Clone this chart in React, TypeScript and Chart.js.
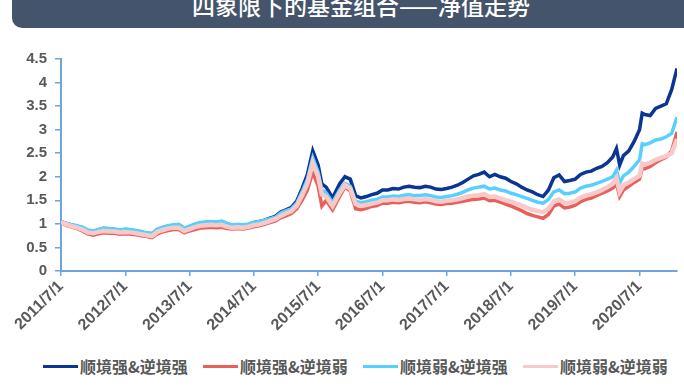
import React, { useEffect, useRef } from "react";
import { Chart, registerables } from "chart.js";

Chart.register(...registerables);

// months since 2011/7/1
const months = [
  0, 1, 2, 3, 4, 5, 6, 7, 8, 9, 10, 11, 12, 13, 14, 15, 16, 17, 18, 19, 20, 21, 22, 23, 24,
  25, 26, 27, 28, 29, 30, 31, 32, 33, 34, 35, 36, 37, 38, 39, 40, 41, 42, 43, 44, 45, 46, 47, 48,
  48.7, 49.5, 50.7,
  52, 53, 54, 55, 56, 57, 58, 59, 60, 61, 62, 63, 64, 65, 66, 67, 68, 69, 70, 71, 72, 73, 74, 75,
  76, 77, 78, 79, 80, 81, 82, 83, 84, 85, 86, 87, 88, 89, 90, 91, 92, 93, 94, 95, 96, 97, 98, 99,
  100, 101, 102, 103,
  103.7, 104.3,
  105, 106, 107, 108,
  108.5,
  109, 110, 111, 112, 113, 114, 115,
];

const tickMonths = [0, 12, 24, 36, 48, 60, 72, 84, 96, 108];
const tickLabels = [
  "2011/7/1", "2012/7/1", "2013/7/1", "2014/7/1", "2015/7/1",
  "2016/7/1", "2017/7/1", "2018/7/1", "2019/7/1", "2020/7/1",
];
const yTickLabels = ["0", "0.5", "1", "1.5", "2", "2.5", "3", "3.5", "4", "4.5"];

const seriesNames = ["顺境强&逆境强", "顺境强&逆境弱", "顺境弱&逆境强", "顺境弱&逆境弱"];
const seriesColors = ["#0A3592", "#E8605A", "#58D0FF", "#F8C9C9"];
const seriesWidths = [3.5, 3.5, 3.5, 4.5];
const drawOrder = [3, 2, 1, 0];

const strongStrong = [
  1.05, 1.01, 0.98, 0.95, 0.92, 0.86, 0.84, 0.87, 0.90, 0.89, 0.88, 0.86, 0.88, 0.87, 0.85, 0.83,
  0.80, 0.79, 0.88, 0.92, 0.95, 0.97, 0.98, 0.90, 0.94, 0.99, 1.02, 1.03, 1.04, 1.03, 1.05, 1.00,
  0.97, 0.98, 0.97, 0.99, 1.03, 1.05, 1.08, 1.12, 1.16, 1.25, 1.30, 1.35, 1.48, 1.75, 2.05, 2.55, 2.25,
  1.85, 1.78, 1.55,
  1.85, 2.0, 1.95, 1.6, 1.55, 1.58, 1.62, 1.65, 1.72, 1.72, 1.75, 1.74, 1.78, 1.80, 1.78, 1.77,
  1.80, 1.78, 1.74, 1.73, 1.75, 1.78, 1.82, 1.88, 1.95, 2.02, 2.05, 2.1, 2.0, 2.05, 2.0, 1.97,
  1.9, 1.85, 1.78, 1.72, 1.68, 1.62, 1.58, 1.72, 1.98, 2.04, 1.9, 1.92, 1.95, 2.05, 2.1, 2.12,
  2.18, 2.22, 2.3, 2.42,
  2.6, 2.25,
  2.45, 2.55, 2.75, 3.0,
  3.35,
  3.32, 3.3, 3.45, 3.5, 3.55, 3.85, 4.3,
];

const strongWeak = [
  1.03, 0.97, 0.93, 0.90, 0.85, 0.79, 0.76, 0.79, 0.81, 0.80, 0.80, 0.78, 0.79, 0.78, 0.77, 0.75,
  0.73, 0.71, 0.79, 0.83, 0.86, 0.88, 0.88, 0.81, 0.85, 0.88, 0.91, 0.92, 0.93, 0.92, 0.93, 0.90,
  0.89, 0.90, 0.89, 0.91, 0.94, 0.96, 0.99, 1.03, 1.06, 1.13, 1.17, 1.22, 1.32, 1.50, 1.72, 2.10, 1.80,
  1.38, 1.50, 1.30,
  1.58, 1.78, 1.70, 1.32, 1.30, 1.33, 1.37, 1.39, 1.44, 1.44, 1.46, 1.45, 1.47, 1.48, 1.46, 1.45,
  1.47, 1.45, 1.42, 1.41, 1.43, 1.44, 1.46, 1.48, 1.50, 1.52, 1.53, 1.55, 1.49, 1.50, 1.46, 1.42,
  1.38, 1.33, 1.28, 1.22, 1.18, 1.15, 1.12, 1.20, 1.38, 1.42, 1.34, 1.36, 1.40, 1.47, 1.52, 1.55,
  1.60, 1.65, 1.70, 1.76,
  1.85, 1.58,
  1.72, 1.80, 1.88, 1.95,
  2.18,
  2.17, 2.22, 2.30, 2.36, 2.42, 2.55, 2.95,
];

const weakStrong = [
  1.05, 1.01, 0.98, 0.96, 0.93, 0.87, 0.85, 0.88, 0.91, 0.90, 0.89, 0.87, 0.89, 0.88, 0.86, 0.84,
  0.81, 0.80, 0.89, 0.93, 0.96, 0.98, 0.99, 0.91, 0.95, 1.00, 1.03, 1.04, 1.05, 1.04, 1.06, 1.01,
  0.98, 0.99, 0.98, 1.00, 1.03, 1.05, 1.08, 1.11, 1.14, 1.23, 1.28, 1.32, 1.44, 1.68, 1.95, 2.40, 2.10,
  1.72, 1.66, 1.45,
  1.72, 1.86, 1.80, 1.48, 1.45, 1.47, 1.50, 1.52, 1.57, 1.57, 1.59, 1.58, 1.61, 1.62, 1.60, 1.60,
  1.62, 1.60, 1.57, 1.56, 1.58, 1.60, 1.63, 1.67, 1.72, 1.76, 1.78, 1.80, 1.74, 1.76, 1.72, 1.70,
  1.65, 1.62, 1.58, 1.54, 1.50, 1.46, 1.44, 1.52, 1.68, 1.72, 1.64, 1.65, 1.68, 1.76, 1.80, 1.82,
  1.86, 1.90, 1.95, 2.00,
  2.14, 1.87,
  2.02, 2.10, 2.22, 2.36,
  2.70,
  2.68, 2.72, 2.78, 2.80, 2.85, 2.92, 3.27,
];

const weakWeak = [
  1.04, 0.99, 0.95, 0.92, 0.88, 0.82, 0.80, 0.83, 0.85, 0.84, 0.84, 0.82, 0.83, 0.82, 0.80, 0.78,
  0.76, 0.74, 0.83, 0.87, 0.90, 0.92, 0.92, 0.85, 0.89, 0.93, 0.96, 0.97, 0.98, 0.97, 0.98, 0.94,
  0.92, 0.93, 0.92, 0.94, 0.97, 0.99, 1.02, 1.06, 1.10, 1.17, 1.22, 1.27, 1.38, 1.60, 1.85, 2.30, 2.00,
  1.62, 1.58, 1.38,
  1.65, 1.82, 1.75, 1.42, 1.38, 1.40, 1.43, 1.45, 1.50, 1.50, 1.52, 1.51, 1.53, 1.54, 1.52, 1.51,
  1.53, 1.51, 1.48, 1.47, 1.49, 1.50, 1.52, 1.55, 1.58, 1.60, 1.61, 1.63, 1.57, 1.58, 1.54, 1.50,
  1.47, 1.43, 1.39, 1.34, 1.30, 1.27, 1.25, 1.32, 1.48, 1.52, 1.44, 1.45, 1.48, 1.56, 1.60, 1.63,
  1.67, 1.72, 1.78, 1.85,
  1.97, 1.68,
  1.82, 1.88, 1.95, 2.02,
  2.28,
  2.26, 2.30, 2.36, 2.40, 2.44, 2.50, 2.80,
];

const AXIS_COLOR = "#6FA3DB";
const LABEL_COLOR = "#595959";
const LATIN_FONT = "'Liberation Sans', Arial, sans-serif";
const CJK_FONT = "'Noto Sans CJK SC', 'Liberation Sans', sans-serif";

export default function App() {
  const canvasRef = useRef<HTMLCanvasElement>(null);

  useEffect(() => {
    const seriesValues = [strongStrong, strongWeak, weakStrong, weakWeak];
    const chart = new Chart(canvasRef.current as HTMLCanvasElement, {
      type: "line",
      data: {
        datasets: seriesNames.map((name, i) => ({
          label: name,
          data: months.map((m, j) => ({ x: m, y: seriesValues[i][j] })),
          borderColor: seriesColors[i],
          backgroundColor: seriesColors[i],
          borderWidth: seriesWidths[i],
          pointRadius: 0,
          tension: 0,
          order: drawOrder[i],
        })),
      },
      options: {
        animation: false,
        responsive: false,
        layout: { padding: { top: 59, right: 7, left: 0, bottom: 0 } },
        plugins: { legend: { display: false }, tooltip: { enabled: false } },
        scales: {
          x: {
            type: "linear",
            min: 0,
            max: 115,
            afterBuildTicks: (s: any) => {
              s.ticks = tickMonths.map((v) => ({ value: v }));
            },
            afterFit: (s: any) => {
              s.height = 74;
            },
            ticks: {
              autoSkip: false,
              maxRotation: 45,
              minRotation: 45,
              padding: 1,
              color: LABEL_COLOR,
              font: { family: LATIN_FONT, size: 16, weight: "bold" },
              callback: (v: any) => {
                const k = tickMonths.indexOf(Number(v));
                return k >= 0 ? tickLabels[k] : "";
              },
            },
            grid: { drawOnChartArea: false, color: AXIS_COLOR, tickLength: 5, lineWidth: 1.5 },
            border: { color: AXIS_COLOR, width: 2 },
          },
          y: {
            min: 0,
            max: 4.5,
            afterFit: (s: any) => {
              s.width = 61;
            },
            ticks: {
              stepSize: 0.5,
              padding: 8,
              color: LABEL_COLOR,
              font: { family: LATIN_FONT, size: 15, weight: "bold" },
              callback: (v: any) => {
                const k = Math.round(Number(v) * 2);
                return yTickLabels[k] ?? "";
              },
            },
            grid: { drawOnChartArea: false, color: AXIS_COLOR, tickLength: 6, lineWidth: 1.5 },
            border: { color: AXIS_COLOR, width: 2 },
          },
        },
      },
    });
    return () => chart.destroy();
  }, []);

  const legendLefts = [43, 203, 363, 523];

  return (
    <div
      style={{
        position: "absolute",
        left: 0,
        top: 0,
        width: 684,
        height: 387,
        overflow: "hidden",
        background: "#ffffff",
      }}
    >
      <div
        style={{
          position: "absolute",
          left: 12,
          top: -20,
          width: 700,
          height: 48,
          borderRadius: 10,
          background: "#44546A",
        }}
      />
      <div
        style={{
          position: "absolute",
          left: 0,
          top: -9,
          width: 722,
          height: 28,
          lineHeight: "28px",
          textAlign: "center",
          color: "#ffffff",
          fontFamily: CJK_FONT,
          fontSize: 23,
          fontWeight: 500,
          whiteSpace: "nowrap",
        }}
      >
        四象限下的基金组合——净值走势
      </div>
      <canvas
        ref={canvasRef}
        width={684}
        height={345}
        style={{ position: "absolute", left: 0, top: 0, width: 684, height: 345 }}
      />
      {seriesNames.map((name, i) => (
        <div
          key={name}
          style={{
            position: "absolute",
            left: legendLefts[i],
            top: 354,
            height: 24,
            display: "flex",
            alignItems: "center",
            whiteSpace: "nowrap",
          }}
        >
          <div style={{ width: 35, height: 3, background: seriesColors[i] }} />
          <span
            style={{
              marginLeft: 2,
              fontFamily: CJK_FONT,
              fontSize: 16,
              fontWeight: 700,
              color: LABEL_COLOR,
            }}
          >
            {name}
          </span>
        </div>
      ))}
    </div>
  );
}
